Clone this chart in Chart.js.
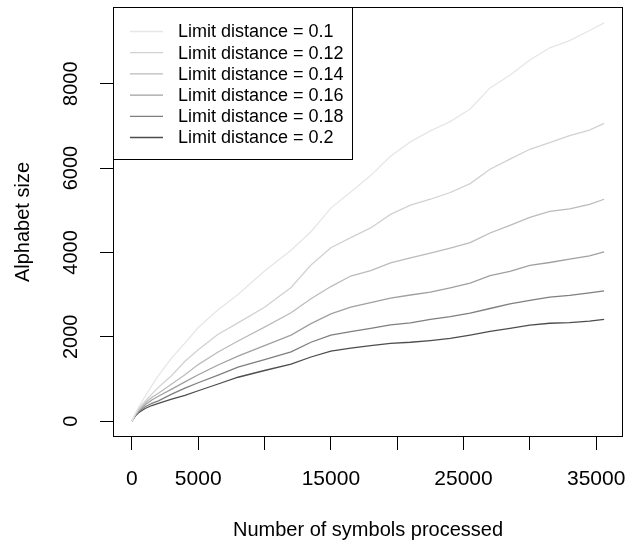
<!DOCTYPE html>
<html>
<head>
<meta charset="utf-8">
<script src="https://cdn.jsdelivr.net/npm/chart.js@4/dist/chart.umd.min.js"></script>
<style>
  html, body { margin: 0; padding: 0; background: #ffffff; }
  #wrap { width: 631px; height: 543px; }
</style>
</head>
<body>
<div id="wrap"><canvas id="c" width="631" height="543"></canvas></div>
<script>
// Number of symbols processed (x) and alphabet size reached for each limit distance
const symbolsProcessed = [0, 250, 500, 1000, 1500, 2000, 3000, 4000, 5000, 6500, 8000, 10000, 12000, 13500, 15000, 16500, 18000, 19500, 21000, 22500, 24000, 25500, 27000, 28500, 30000, 31500, 33000, 34500, 35600];

const alphabetLimit010 = [1, 180, 330, 590, 840, 1080, 1500, 1850, 2220, 2640, 3000, 3560, 4050, 4490, 5050, 5430, 5820, 6280, 6620, 6880, 7100, 7400, 7900, 8200, 8560, 8850, 9020, 9260, 9440];
const alphabetLimit012 = [1, 160, 290, 470, 640, 800, 1080, 1420, 1690, 2060, 2330, 2700, 3170, 3700, 4110, 4350, 4580, 4900, 5120, 5260, 5420, 5630, 5970, 6210, 6445, 6600, 6770, 6900, 7060];
const alphabetLimit014 = [1, 150, 260, 430, 560, 660, 880, 1100, 1340, 1640, 1900, 2230, 2570, 2900, 3190, 3440, 3570, 3750, 3870, 3980, 4100, 4230, 4460, 4640, 4830, 4970, 5030, 5140, 5260];
const alphabetLimit016 = [1, 140, 240, 390, 500, 590, 760, 930, 1100, 1330, 1540, 1790, 2040, 2310, 2540, 2700, 2810, 2915, 2990, 3060, 3160, 3270, 3450, 3550, 3690, 3760, 3840, 3920, 4010];
const alphabetLimit018 = [1, 130, 220, 340, 420, 480, 640, 780, 910, 1090, 1280, 1460, 1640, 1870, 2040, 2120, 2200, 2280, 2330, 2410, 2476, 2560, 2670, 2780, 2865, 2940, 2980, 3040, 3090];
const alphabetLimit020 = [1, 120, 200, 300, 370, 420, 520, 610, 720, 880, 1040, 1200, 1350, 1520, 1660, 1730, 1790, 1845, 1870, 1910, 1960, 2040, 2130, 2200, 2275, 2320, 2335, 2370, 2410];

const seriesLabels = ['Limit distance = 0.1', 'Limit distance = 0.12', 'Limit distance = 0.14', 'Limit distance = 0.16', 'Limit distance = 0.18', 'Limit distance = 0.2'];
const seriesValues = [alphabetLimit010, alphabetLimit012, alphabetLimit014, alphabetLimit016, alphabetLimit018, alphabetLimit020];

const xTickValues = [0, 5000, 10000, 15000, 20000, 25000, 30000, 35000];
const xTickLabels = ['0', '5000', '', '15000', '', '25000', '', '35000'];
const yTickValues = [0, 2000, 4000, 6000, 8000];
const yTickLabels = ['0', '2000', '4000', '6000', '8000'];

// grey ramp, light to dark
const lineGreys = ['#E6E6E6', '#D1D1D1', '#BBBBBB', '#A0A0A0', '#7F7F7F', '#4D4D4D'];

const FONT = '"Liberation Sans", Arial, Helvetica, sans-serif';

// axis limits padded by 4% of the data range on each side
function paddedRange(values) {
  const lo = Math.min(...values), hi = Math.max(...values);
  const pad = (hi - lo) * 0.04;
  return [lo - pad, hi + pad];
}
const [xMin, xMax] = paddedRange(symbolsProcessed);
const [yMin, yMax] = paddedRange(seriesValues.flat());

const datasets = seriesValues.map((vals, i) => ({
  label: seriesLabels[i],
  data: symbolsProcessed.map((x, j) => ({ x: x, y: vals[j] })),
  borderColor: lineGreys[i],
  borderWidth: 1.3,
  pointRadius: 0,
  tension: 0,
  fill: false
}));

// frame around the plotting region
const plotFrame = {
  id: 'plotFrame',
  afterDraw(chart) {
    const a = chart.chartArea, ctx = chart.ctx;
    ctx.save();
    ctx.strokeStyle = '#000';
    ctx.lineWidth = 1;
    ctx.strokeRect(Math.round(a.left) + 0.5, Math.round(a.top) + 0.5,
                   Math.round(a.right - a.left) - 1, Math.round(a.bottom - a.top) - 1);
    ctx.restore();
  }
};

// boxed key in the top-left corner of the plot
const cornerLegend = {
  id: 'cornerLegend',
  afterDraw(chart) {
    const a = chart.chartArea, ctx = chart.ctx;
    const x0 = Math.round(a.left), y0 = Math.round(a.top);
    const w = 239, h = 152;
    ctx.save();
    ctx.fillStyle = '#fff';
    ctx.fillRect(x0, y0, w, h);
    ctx.strokeStyle = '#000';
    ctx.lineWidth = 1;
    ctx.strokeRect(x0 + 0.5, y0 + 0.5, w, h);
    ctx.font = '18px ' + FONT;
    ctx.textBaseline = 'middle';
    ctx.textAlign = 'left';
    chart.data.datasets.forEach((ds, i) => {
      const y = y0 + 24.5 + i * 21.2;
      ctx.strokeStyle = ds.borderColor;
      ctx.lineWidth = ds.borderWidth;
      ctx.beginPath();
      ctx.moveTo(x0 + 17, y);
      ctx.lineTo(x0 + 50, y);
      ctx.stroke();
      ctx.fillStyle = '#000';
      ctx.fillText(ds.label, x0 + 65, y + 1);
    });
    ctx.restore();
  }
};

new Chart(document.getElementById('c'), {
  type: 'line',
  data: { datasets: datasets },
  plugins: [plotFrame, cornerLegend],
  options: {
    responsive: false,
    animation: false,
    devicePixelRatio: 1,
    layout: { padding: { top: 7, right: 8, left: 0, bottom: 0 } },
    plugins: { legend: { display: false }, tooltip: { enabled: false } },
    scales: {
      x: {
        type: 'linear',
        position: 'bottom',
        min: xMin,
        max: xMax,
        afterBuildTicks: s => { s.ticks = xTickValues.map(v => ({ value: v })); },
        afterFit: s => { s.height = 106; s.paddingLeft = 0; s.paddingRight = 0; },
        ticks: {
          autoSkip: false,
          maxRotation: 0,
          minRotation: 0,
          padding: 17,
          color: '#000',
          font: { family: FONT, size: 21 },
          callback: v => xTickLabels[xTickValues.indexOf(v)]
        },
        grid: { drawOnChartArea: false, drawTicks: true, tickLength: 13, color: '#000', lineWidth: 1 },
        border: { display: false },
        title: {
          display: true,
          text: 'Number of symbols processed',
          color: '#000',
          font: { family: FONT, size: 20 },
          padding: { top: 0, bottom: 1 }
        }
      },
      y: {
        type: 'linear',
        position: 'left',
        min: yMin,
        max: yMax,
        afterBuildTicks: s => { s.ticks = yTickValues.map(v => ({ value: v })); },
        afterFit: s => { s.width = 113; s.paddingTop = 0; s.paddingBottom = 0; },
        ticks: {
          autoSkip: false,
          minRotation: 90,
          maxRotation: 90,
          crossAlign: 'center',
          padding: 6,
          color: '#000',
          font: { family: FONT, size: 20 },
          callback: v => yTickLabels[yTickValues.indexOf(v)]
        },
        grid: { drawOnChartArea: false, drawTicks: true, tickLength: 13, color: '#000', lineWidth: 1 },
        border: { display: false },
        title: {
          display: true,
          text: 'Alphabet size',
          color: '#000',
          font: { family: FONT, size: 20 },
          padding: { top: 11, bottom: 0 }
        }
      }
    }
  }
});
</script>
</body>
</html>
